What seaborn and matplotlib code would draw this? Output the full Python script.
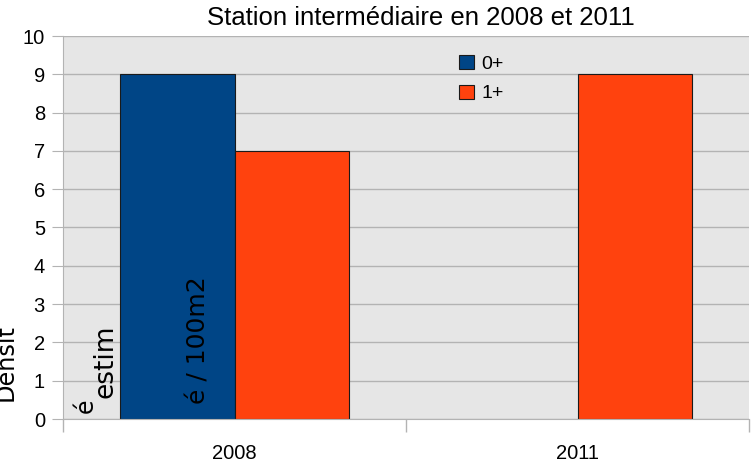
import numpy as np
import pandas as pd
import matplotlib
matplotlib.use("Agg")
import matplotlib.pyplot as plt
import seaborn as sns
from matplotlib.ticker import FixedLocator

# ---- data ----
years = ["2008", "2011"]
series = ["0+", "1+"]
vals_0plus = [9, np.nan]
vals_1plus = [7, 9]
yticks = list(range(0, 11))
title = "Station intermédiaire en 2008 et 2011"
colors = ["#004586", "#ff420e"]

plt.rcParams['font.family'] = ['Liberation Sans', 'DejaVu Sans']

df = pd.DataFrame({
    "year": years * 2,
    "series": [series[0]] * 2 + [series[1]] * 2,
    "value": vals_0plus + vals_1plus,
}).dropna()

W, H = 753, 469
fig = plt.figure(figsize=(W / 100, H / 100), dpi=100)
ax = fig.add_axes([63 / W, 1 - 419 / H, (749 - 63) / W, (419 - 36) / H])
ax.set_facecolor("#e6e6e6")
ax.set_axisbelow(True)

sns.barplot(data=df, x="year", y="value", hue="series", order=years,
            hue_order=series, palette=colors, width=0.665,
            edgecolor="#1a1a1a", linewidth=0.8, saturation=1,
            errorbar=None, ax=ax)

ax.set_xlim(-0.5, 1.5)
ax.set_ylim(0, 10)
ax.set_yticks(yticks)
ax.yaxis.grid(True, color="#b3b3b3", lw=1)
ax.xaxis.grid(False)
ax.tick_params(axis="y", length=8, color="#b3b3b3", pad=5, labelsize=14.5)
ax.tick_params(axis="x", which="major", length=0, pad=18, labelsize=14.5)
ax.xaxis.set_minor_locator(FixedLocator([-0.5, 0.5, 1.5]))
ax.tick_params(axis="x", which="minor", length=9.5, color="#b3b3b3", width=1)
for s in ["top", "right"]:
    ax.spines[s].set_visible(False)
for s in ["left", "bottom"]:
    ax.spines[s].set_color("#b3b3b3")
ax.set_xlabel("")
ax.set_ylabel("")

handles, labels = ax.get_legend_handles_labels()
ax.legend(handles, labels, loc="upper left", bbox_to_anchor=(459 / W, 1 - 55 / H),
          bbox_transform=fig.transFigure, frameon=False, fontsize=14,
          handlelength=0.75, handleheight=0.75, handletextpad=0.4,
          labelspacing=0.6, borderpad=0, borderaxespad=0)

fig.text(421 / W, 1 - 18 / H, title, ha="center", va="center", fontsize=18.5)

# garbled y-axis label pieces, as in the reference
def ylab(txt, x, y, size):
    fig.text(x / W, 1 - y / H, txt, rotation=90, rotation_mode="anchor",
             ha="left", va="baseline", fontsize=size, zorder=10,
             family=["DejaVu Sans"])

ylab("Densit", 13, 401, 17.3)
ylab("é", 93, 413, 17)
ylab("estim", 112, 398, 19)
ylab("é / 100m2", 206, 404, 18)

fig.savefig("out.png", dpi=100)
